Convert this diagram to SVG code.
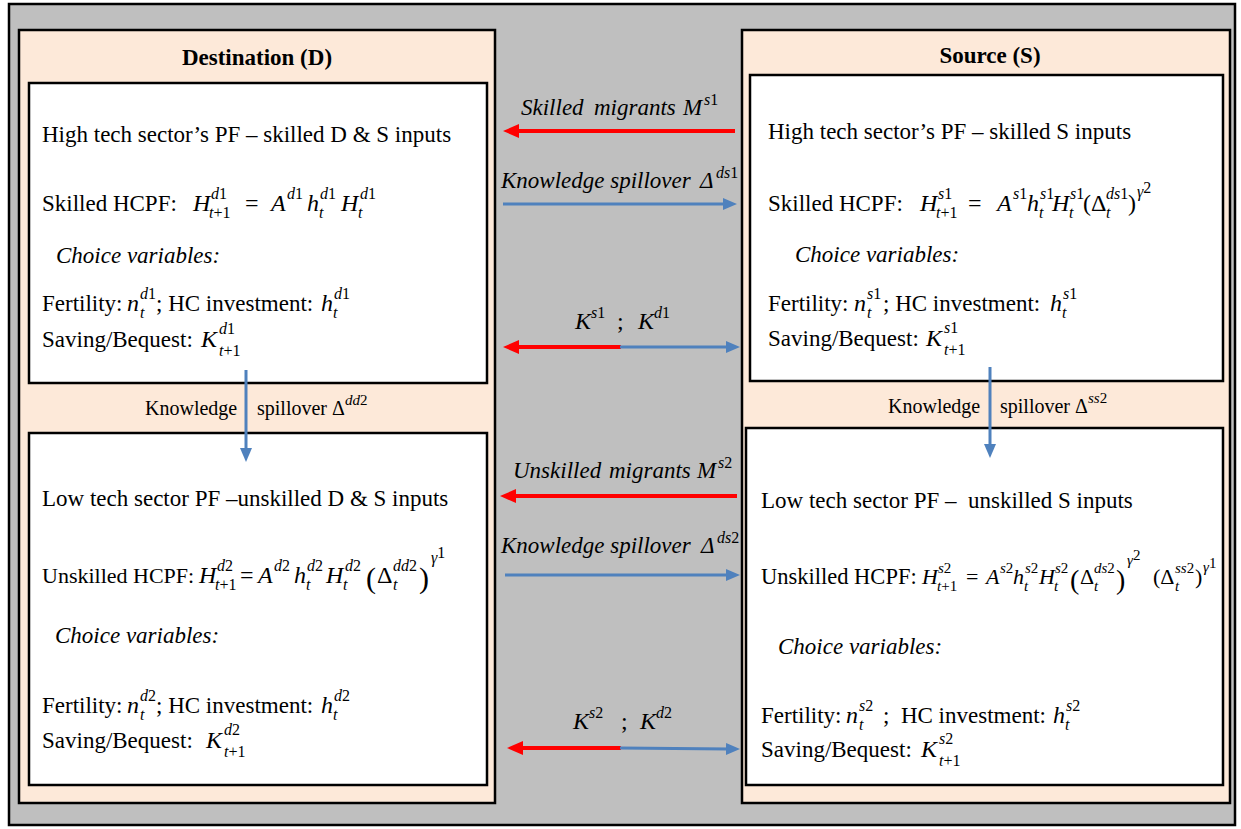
<svg xmlns="http://www.w3.org/2000/svg" width="1241" height="829" viewBox="0 0 1241 829">
<style>
.t{font-family:"Liberation Serif","Times New Roman",serif;font-size:23px;fill:#000;white-space:pre}
.m{font-size:24px;font-style:italic}
.m2{font-size:22px;font-style:italic}
.b{font-weight:bold}
.i{font-style:italic}
.sc{font-size:16px}
.sc2{font-size:15px}
.u{font-style:normal}
.big{font-size:30px;font-style:normal}
.lab{font-size:20px}
.box{fill:#fff;stroke:#000;stroke-width:2.5}
.pan{fill:#fde9d9;stroke:#000;stroke-width:2.5}
.red{stroke:#ff0000;stroke-width:4;fill:none}
.blue{stroke:#4f81bd;stroke-width:3;fill:none}
</style>
<defs>
<marker id="ar" markerUnits="userSpaceOnUse" markerWidth="16" markerHeight="14" refX="4" refY="7" orient="auto"><path d="M0,0 L16,7 L0,14 z" fill="#ff0000"/></marker>
<marker id="ab" markerUnits="userSpaceOnUse" markerWidth="14" markerHeight="12" refX="3" refY="6" orient="auto"><path d="M0,0 L14,6 L0,12 z" fill="#4f81bd"/></marker>
</defs>
<rect x="9" y="4" width="1226" height="821" fill="#bfbfbf" stroke="#000" stroke-width="2.5"/>

<g id="destination">
<rect class="pan" x="19" y="30" width="476" height="773"/>
<text class="t b" x="257" y="65" text-anchor="middle">Destination (D)</text>
</g>
<g id="source">
<rect class="pan" x="742" y="30" width="488" height="773"/>
<text class="t b" x="990" y="63" text-anchor="middle">Source (S)</text>
</g>

<g id="dest-high-tech">
<rect class="box" x="29" y="83" width="458" height="300"/>
<text class="t" x="42" y="142">High tech sector’s PF – skilled D &amp; S inputs</text>
<text class="t" x="42" y="211">Skilled HCPF:</text>
<text class="t m"><tspan x="193" y="211">H</tspan><tspan class="sc" x="211" y="199">d<tspan class="u">1</tspan></tspan><tspan class="sc" x="209" y="218">t<tspan class="u">+1</tspan></tspan><tspan class="u" x="245" y="211">=</tspan><tspan x="271" y="211">A</tspan><tspan class="sc" x="287" y="199">d<tspan class="u">1</tspan></tspan><tspan x="307" y="211">h</tspan><tspan class="sc" x="320" y="199">d<tspan class="u">1</tspan></tspan><tspan class="sc" x="319" y="218">t</tspan><tspan x="341" y="211">H</tspan><tspan class="sc" x="360" y="199">d<tspan class="u">1</tspan></tspan><tspan class="sc" x="358" y="218">t</tspan></text>
<text class="t i" x="56" y="263">Choice variables:</text>
<text class="t" x="42" y="311">Fertility:</text>
<text class="t m"><tspan x="127" y="311">n</tspan><tspan class="sc" x="140" y="299">d<tspan class="u">1</tspan></tspan><tspan class="sc" x="140" y="318">t</tspan></text>
<text class="t" x="156" y="311">; HC investment:</text>
<text class="t m"><tspan x="321" y="311">h</tspan><tspan class="sc" x="334" y="299">d<tspan class="u">1</tspan></tspan><tspan class="sc" x="333" y="318">t</tspan></text>
<text class="t" x="42" y="347">Saving/Bequest:</text>
<text class="t m"><tspan x="201" y="347">K</tspan><tspan class="sc" x="219" y="334">d<tspan class="u">1</tspan></tspan><tspan class="sc" x="219" y="356">t<tspan class="u">+1</tspan></tspan></text>
</g>

<g id="source-high-tech">
<rect class="box" x="750" y="75" width="473" height="306"/>
<text class="t" x="768" y="139">High tech sector’s PF – skilled S inputs</text>
<text class="t" x="768" y="211">Skilled HCPF:</text>
<text class="t m"><tspan x="920" y="211">H</tspan><tspan class="sc" x="938" y="199">s<tspan class="u">1</tspan></tspan><tspan class="sc" x="936" y="218">t<tspan class="u">+1</tspan></tspan><tspan class="u" x="968" y="211">=</tspan><tspan x="997" y="211">A</tspan><tspan class="sc" x="1013" y="199">s<tspan class="u">1</tspan></tspan><tspan x="1027" y="211">h</tspan><tspan class="sc" x="1040" y="199">s<tspan class="u">1</tspan></tspan><tspan class="sc" x="1039" y="218">t</tspan><tspan x="1052" y="211">H</tspan><tspan class="sc" x="1070" y="199">s<tspan class="u">1</tspan></tspan><tspan class="sc" x="1069" y="218">t</tspan><tspan class="u" x="1083" y="211">(Δ</tspan><tspan class="sc" x="1106" y="199">ds<tspan class="u">1</tspan></tspan><tspan class="sc" x="1106" y="218">t</tspan><tspan class="u" x="1128" y="211">)</tspan><tspan class="sc" x="1137" y="197">γ<tspan class="u" dy="-4">2</tspan></tspan></text>
<text class="t i" x="795" y="262">Choice variables:</text>
<text class="t" x="768" y="311">Fertility:</text>
<text class="t m"><tspan x="854" y="311">n</tspan><tspan class="sc" x="867" y="299">s<tspan class="u">1</tspan></tspan><tspan class="sc" x="867" y="318">t</tspan></text>
<text class="t" x="883" y="311">; HC investment:</text>
<text class="t m"><tspan x="1050" y="311">h</tspan><tspan class="sc" x="1063" y="299">s<tspan class="u">1</tspan></tspan><tspan class="sc" x="1062" y="318">t</tspan></text>
<text class="t" x="768" y="346">Saving/Bequest:</text>
<text class="t m"><tspan x="926" y="346">K</tspan><tspan class="sc" x="944" y="333">s<tspan class="u">1</tspan></tspan><tspan class="sc" x="944" y="355">t<tspan class="u">+1</tspan></tspan></text>
</g>

<g id="dest-low-tech">
<rect class="box" x="29" y="433" width="458" height="352"/>
<text class="t" x="42" y="506">Low tech sector PF –unskilled D &amp; S inputs</text>
<text class="t" x="42" y="583" style="font-size:22px">Unskilled HCPF:</text>
<text class="t m"><tspan x="199" y="583">H</tspan><tspan class="sc" x="217" y="571">d<tspan class="u">2</tspan></tspan><tspan class="sc" x="215" y="590">t<tspan class="u">+1</tspan></tspan><tspan class="u" x="240" y="583">=</tspan><tspan x="258" y="583">A</tspan><tspan class="sc" x="274" y="571">d<tspan class="u">2</tspan></tspan><tspan x="294" y="583">h</tspan><tspan class="sc" x="307" y="571">d<tspan class="u">2</tspan></tspan><tspan class="sc" x="306" y="590">t</tspan><tspan x="326" y="583">H</tspan><tspan class="sc" x="345" y="571">d<tspan class="u">2</tspan></tspan><tspan class="sc" x="343" y="590">t</tspan><tspan class="big" x="366" y="588">(</tspan><tspan class="u" x="377" y="583">Δ</tspan><tspan class="sc" x="393" y="571">dd<tspan class="u">2</tspan></tspan><tspan class="sc" x="393" y="590">t</tspan><tspan class="big" x="419" y="588">)</tspan><tspan class="sc" x="431" y="563">γ<tspan class="u" dy="-5">1</tspan></tspan></text>
<text class="t i" x="55" y="643">Choice variables:</text>
<text class="t" x="42" y="713">Fertility:</text>
<text class="t m"><tspan x="127" y="713">n</tspan><tspan class="sc" x="140" y="701">d<tspan class="u">2</tspan></tspan><tspan class="sc" x="140" y="720">t</tspan></text>
<text class="t" x="156" y="713">; HC investment:</text>
<text class="t m"><tspan x="321" y="713">h</tspan><tspan class="sc" x="334" y="701">d<tspan class="u">2</tspan></tspan><tspan class="sc" x="333" y="720">t</tspan></text>
<text class="t" x="42" y="748">Saving/Bequest:</text>
<text class="t m"><tspan x="206" y="748">K</tspan><tspan class="sc" x="224" y="735">d<tspan class="u">2</tspan></tspan><tspan class="sc" x="224" y="757">t<tspan class="u">+1</tspan></tspan></text>
</g>

<g id="source-low-tech">
<rect class="box" x="746" y="428" width="477" height="357"/>
<text class="t" x="761" y="508">Low tech sector PF –  unskilled S inputs</text>
<text class="t" x="761" y="584" style="font-size:22.5px">Unskilled HCPF:</text>
<text class="t m2"><tspan x="922" y="584">H</tspan><tspan class="sc2" x="938" y="573">s<tspan class="u">2</tspan></tspan><tspan class="sc2" x="937" y="591">t<tspan class="u">+1</tspan></tspan><tspan class="u" x="966" y="584">=</tspan><tspan x="986" y="584">A</tspan><tspan class="sc2" x="1000" y="573">s<tspan class="u">2</tspan></tspan><tspan x="1013" y="584">h</tspan><tspan class="sc2" x="1025" y="573">s<tspan class="u">2</tspan></tspan><tspan class="sc2" x="1024" y="591">t</tspan><tspan x="1039" y="584">H</tspan><tspan class="sc2" x="1055" y="573">s<tspan class="u">2</tspan></tspan><tspan class="sc2" x="1054" y="591">t</tspan><tspan class="big" x="1070" y="589" style="font-size:28px">(</tspan><tspan class="u" x="1080" y="584">Δ</tspan><tspan class="sc2" x="1094" y="573">ds<tspan class="u">2</tspan></tspan><tspan class="sc2" x="1094" y="591">t</tspan><tspan class="big" x="1116" y="589" style="font-size:28px">)</tspan><tspan class="sc2" x="1127" y="565">γ<tspan class="u" dy="-5">2</tspan></tspan><tspan class="u" x="1153" y="584">(Δ</tspan><tspan class="sc2" x="1175" y="573">ss<tspan class="u">2</tspan></tspan><tspan class="sc2" x="1175" y="591">t</tspan><tspan class="u" x="1195" y="584">)</tspan><tspan class="sc2" x="1203" y="572">γ<tspan class="u" dy="-4">1</tspan></tspan></text>
<text class="t i" x="778" y="654">Choice variables:</text>
<text class="t" x="761" y="723">Fertility:</text>
<text class="t m"><tspan x="846" y="723">n</tspan><tspan class="sc" x="859" y="711">s<tspan class="u">2</tspan></tspan><tspan class="sc" x="859" y="730">t</tspan></text>
<text class="t" x="883" y="723">;  HC investment:</text>
<text class="t m"><tspan x="1053" y="723">h</tspan><tspan class="sc" x="1066" y="711">s<tspan class="u">2</tspan></tspan><tspan class="sc" x="1065" y="730">t</tspan></text>
<text class="t" x="761" y="757">Saving/Bequest:</text>
<text class="t m"><tspan x="921" y="757">K</tspan><tspan class="sc" x="939" y="744">s<tspan class="u">2</tspan></tspan><tspan class="sc" x="939" y="766">t<tspan class="u">+1</tspan></tspan></text>
</g>

<g id="connectors">
<line class="red" x1="735" y1="131" x2="515" y2="131" marker-end="url(#ar)"/>
<line class="blue" x1="503" y1="204" x2="726" y2="204" marker-end="url(#ab)"/>
<line class="red" x1="621" y1="347" x2="515" y2="347" marker-end="url(#ar)"/>
<line class="blue" x1="620" y1="347" x2="729" y2="347" marker-end="url(#ab)"/>
<line class="red" x1="737" y1="496" x2="512" y2="496" marker-end="url(#ar)"/>
<line class="blue" x1="505" y1="575" x2="729" y2="575" marker-end="url(#ab)"/>
<line class="red" x1="621" y1="748" x2="519" y2="748" marker-end="url(#ar)"/>
<line class="blue" x1="620" y1="748" x2="729" y2="749" marker-end="url(#ab)"/>
<line class="blue" x1="246" y1="370" x2="246" y2="451" marker-end="url(#ab)"/>
<line class="blue" x1="990" y1="367" x2="990" y2="447" marker-end="url(#ab)"/>

<text class="t i"><tspan x="521" y="115">Skilled</tspan><tspan x="594" y="115">migrants</tspan><tspan x="683" y="115">M</tspan><tspan class="sc" x="704" y="105">s<tspan class="u">1</tspan></tspan></text>
<text class="t i"><tspan x="501" y="188">Knowledge spillover</tspan><tspan x="700" y="188">Δ</tspan><tspan class="sc" x="716" y="178">ds<tspan class="u">1</tspan></tspan></text>
<text class="t m"><tspan x="575" y="329">K</tspan><tspan class="sc" x="591" y="318">s<tspan class="u">1</tspan></tspan><tspan class="u" x="617" y="329">;</tspan><tspan x="638" y="329">K</tspan><tspan class="sc" x="654" y="318">d<tspan class="u">1</tspan></tspan></text>
<text class="t i"><tspan x="513" y="478">Unskilled</tspan><tspan x="609" y="478">migrants</tspan><tspan x="697" y="478">M</tspan><tspan class="sc" x="718" y="468">s<tspan class="u">2</tspan></tspan></text>
<text class="t i"><tspan x="501" y="553">Knowledge spillover</tspan><tspan x="701" y="553">Δ</tspan><tspan class="sc" x="717" y="543">ds<tspan class="u">2</tspan></tspan></text>
<text class="t m"><tspan x="573" y="729">K</tspan><tspan class="sc" x="589" y="718">s<tspan class="u">2</tspan></tspan><tspan class="u" x="621" y="729">;</tspan><tspan x="640" y="729">K</tspan><tspan class="sc" x="656" y="718">d<tspan class="u">2</tspan></tspan></text>
<text class="t lab"><tspan x="145" y="415">Knowledge</tspan><tspan x="257" y="415">spillover Δ</tspan><tspan class="i" x="345" y="405" style="font-size:15px">dd<tspan class="u">2</tspan></tspan></text>
<text class="t lab"><tspan x="888" y="413">Knowledge</tspan><tspan x="1000" y="413">spillover Δ</tspan><tspan class="i" x="1088" y="403" style="font-size:15px">ss<tspan class="u">2</tspan></tspan></text>
</g>
</svg>
